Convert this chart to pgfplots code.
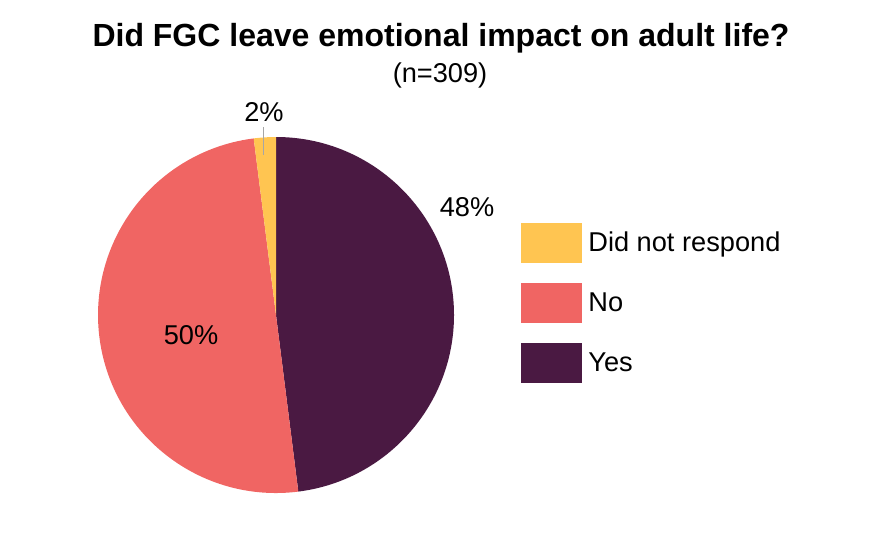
\documentclass[border=0pt]{standalone}
\usepackage{pgfplots}
\pgfplotsset{compat=1.18}
\usepackage{fontspec}
\setmainfont{Liberation Sans}
\definecolor{cYes}{HTML}{4A1942}
\definecolor{cNo}{HTML}{F06563}
\definecolor{cDNR}{HTML}{FFC551}
% shares (percent)
\def\pYes{48}
\def\pNo{50}
\def\pDNR{2}
\pgfmathsetmacro\aA{90-3.6*\pYes}
\pgfmathsetmacro\aB{\aA-3.6*\pNo}
\pgfmathsetmacro\aC{\aB-3.6*\pDNR}
\newcommand\lbl{\fontsize{13.6}{16}\selectfont}
\begin{document}
\begin{tikzpicture}
\begin{axis}[x=0.5pt,y=0.5pt,xmin=0,xmax=881,ymin=0,ymax=532,
  hide axis,clip=false,
  legend image code/.code={\fill[#1,draw=none] (0pt,-10pt) rectangle (30.5pt,10pt);\path[draw=none,fill=none] (0pt,0pt) -- (33.5pt,0pt);},
  legend style={at={(axis cs:521,309)},anchor=north west,draw=none,fill=none,
    font=\lbl,row sep=10pt,inner sep=0pt,
    nodes={inner sep=0pt,anchor=west},
    /tikz/every even column/.append style={column sep=4pt}},
  legend cell align=left]
\path (axis cs:0,0) rectangle (axis cs:881,532);
\fill[cYes] (axis cs:276,217) -- ++(90:89pt) arc[start angle=90,end angle=\aA,radius=89pt] -- cycle;
\fill[cNo] (axis cs:276,217) -- ++(\aA:89pt) arc[start angle=\aA,end angle=\aB,radius=89pt] -- cycle;
\fill[cDNR] (axis cs:276,217) -- ++(\aB:89pt) arc[start angle=\aB,end angle=\aC,radius=89pt] -- cycle;
\draw[gray!70,line width=0.4pt] (axis cs:263,405) -- (axis cs:263,377);
\node[font=\lbl] at (axis cs:264,420) {2\%};
\node[font=\lbl] at (axis cs:467,325) {48\%};
\node[font=\lbl] at (axis cs:191,197) {50\%};
\node[font=\bfseries\fontsize{16}{19}\selectfont] at (axis cs:441,494) {Did FGC leave emotional impact on adult life?};
\node[font=\lbl] at (axis cs:440,457) {(n=309)};
\addlegendimage{cDNR}
\addlegendentry{Did not respond}
\addlegendimage{cNo}
\addlegendentry{No}
\addlegendimage{cYes}
\addlegendentry{Yes}
\end{axis}
\end{tikzpicture}
\end{document}
